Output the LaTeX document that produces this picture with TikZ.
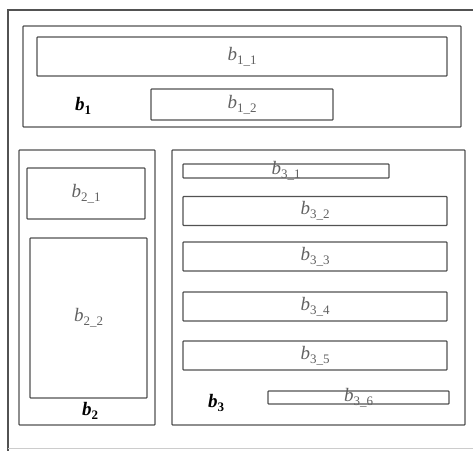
\documentclass[tikz,border=0pt]{standalone}
\usepackage{fontspec}
\setmainfont{Liberation Serif}
\usepackage{tikz}
\usetikzlibrary{positioning}

% part label: italic b with a lowered index
\newcommand{\partlbl}[2]{\textit{#1}\raisebox{-0.22em}{\fontsize{13}{13}\selectfont #2}}

\begin{document}
\begin{tikzpicture}[
    x=1pt, y=-1pt,
    box/.style={draw=black!68, line width=1.3pt, inner sep=0pt, rounded corners=0.8pt},
    lbl/.style={text=black!62, font=\fontsize{19}{22}\selectfont, inner sep=0pt},
    blk/.style={text=black, font=\fontsize{19}{22}\selectfont\bfseries, inner sep=0pt},
  ]
  \useasboundingbox (0,0) rectangle (473,450);

  % ---------- outer frame (right side cut off) ----------
  \draw[black!68, line width=1.3pt] (8,452) -- (8,10) -- (476,10);
  \draw[black!20, line width=0.8pt] (8,448) -- (473,448);

  % ---------- block b1 ----------
  \node[box, minimum width=438, minimum height=101] (b1) at (242,76.5) {};
  \node[box, minimum width=410, minimum height=39] (b11) at (242,56.5) {};
  \node[box, minimum width=182, minimum height=31] (b12) at (242,104.5) {};
  \node[lbl] at (b11) {\partlbl{b}{1\_1}};
  \node[lbl] at (b12) {\partlbl{b}{1\_2}};
  \node[blk] at (83,106) {\partlbl{b}{1}};

  % ---------- block b2 ----------
  \node[box, minimum width=136, minimum height=275] (b2) at (87,287.5) {};
  \node[box, minimum width=118, minimum height=51] (b21) at (86,193.5) {};
  \node[box, minimum width=117, minimum height=160] (b22) at (88.5,318) {};
  \node[lbl] at (b21) {\partlbl{b}{2\_1}};
  \node[lbl] at (b22) {\partlbl{b}{2\_2}};
  \node[blk] at (90,411) {\partlbl{b}{2}};

  % ---------- block b3 ----------
  \node[box, minimum width=293, minimum height=275] (b3) at (318.5,287.5) {};
  \node[box, minimum width=206, minimum height=14] (b31) at (286,171) {};
  \foreach \k/\yc in {2/211, 3/256.5, 4/306.5, 5/355.5}
    \node[box, minimum width=264, minimum height=29] (b3\k) at (315,\yc) {};
  \node[box, minimum width=181, minimum height=13] (b36) at (358.5,397.5) {};
  \foreach \k in {1,...,6}
    \node[lbl] at (b3\k) {\partlbl{b}{3\_\k}};
  \node[blk] at (216,403) {\partlbl{b}{3}};

\end{tikzpicture}
\end{document}
